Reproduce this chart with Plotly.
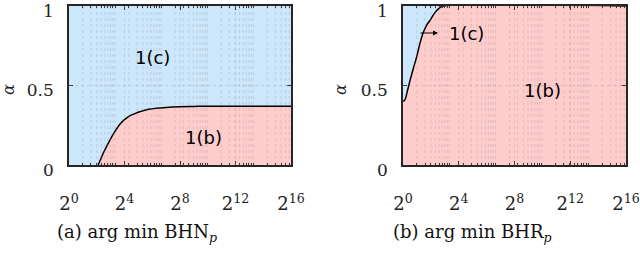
import numpy as np
import plotly.graph_objects as go

# ---- data (x given as log2(p)) ----
bhn_log2p = [2.1, 2.25, 2.5, 2.95, 3.3, 3.7, 4.0, 4.4, 4.8, 5.1, 5.6, 6.3, 7.0, 8.0, 9.0, 10.0, 12.0, 16.0]
bhn_alpha = [0.0, 0.03, 0.08, 0.157, 0.21, 0.26, 0.285, 0.31, 0.325, 0.335, 0.348, 0.357, 0.362, 0.366, 0.368, 0.37, 0.37, 0.37]

bhr_log2p = [0.0, 0.14, 0.3, 0.5, 0.75, 0.98, 1.2, 1.44, 1.7, 1.94, 2.3, 2.65, 2.9, 16.0]
bhr_alpha = [0.40, 0.41, 0.46, 0.53, 0.61, 0.68, 0.76, 0.83, 0.88, 0.91, 0.96, 0.99, 1.0, 1.0]

x_tickvals = [0, 4, 8, 12, 16]
x_ticktext = ["2<sup>0</sup>", "2<sup>4</sup>", "2<sup>8</sup>", "2<sup>12</sup>", "2<sup>16</sup>"]
y_tickvals = [0, 0.5, 1]
y_ticktext = ["0", "0.5", "1"]

BLUE = "#cce6fb"
PINK = "#ffcccc"
FRAME = "#262626"
SERIF = "DejaVu Serif, serif"
SANS = "DejaVu Sans, sans-serif"

# minor log positions (MATLAB style, base-10 minors shown on base-2 exponent axis)
minor = [float(np.log2(m * 10 ** k)) for k in range(0, 5) for m in range(1, 10)]
minor = [v for v in minor if 0 < v < 16]

fig = go.Figure()
fig.add_trace(go.Scatter(x=bhn_log2p, y=bhn_alpha, mode="lines", fill="tozeroy",
                         fillcolor=PINK, line=dict(color="black", width=1.5, shape="spline"),
                         xaxis="x", yaxis="y", showlegend=False, hoverinfo="skip"))
fig.add_trace(go.Scatter(x=bhr_log2p, y=bhr_alpha, mode="lines", fill="tozeroy",
                         fillcolor=PINK, line=dict(color="black", width=1.5, shape="spline"),
                         xaxis="x2", yaxis="y2", showlegend=False, hoverinfo="skip"))

def xax(domain, anchor):
    return dict(domain=domain, anchor=anchor, range=[0, 16], tickmode="array",
                tickvals=x_tickvals, ticktext=x_ticktext, ticks="inside", ticklen=4,
                tickcolor=FRAME, showline=True, linecolor=FRAME, linewidth=1.5, mirror="ticks",
                showgrid=False, zeroline=False, ticklabelstandoff=22, automargin=False,
                ticklabeloverflow="allow",
                tickfont=dict(family=SERIF, size=18, color="#222"),
                minor=dict(tickvals=minor, ticks="inside", ticklen=2, tickcolor=FRAME, showgrid=False),
                layer="above traces")

def yax(domain, anchor):
    return dict(domain=domain, anchor=anchor, range=[-0.0001, 1.0001], tickmode="array",
                tickvals=y_tickvals, ticktext=y_ticktext, ticks="inside", ticklen=4,
                tickcolor=FRAME, showline=True, linecolor=FRAME, linewidth=1.5, mirror="ticks",
                showgrid=False, zeroline=False, ticklabelstandoff=10, ticklabelshift=5,
                automargin=False, ticklabeloverflow="allow",
                tickfont=dict(family=SERIF, size=17, color="#222"), layer="above traces")

yd = [1 - 165 / 256, 1 - 6 / 256]
fig.update_layout(
    width=640, height=256, margin=dict(l=0, r=0, t=0, b=0, autoexpand=False),
    paper_bgcolor="white", plot_bgcolor=BLUE,
    xaxis=xax([69 / 640, 291 / 640], "y"),
    yaxis=yax(yd, "x"),
    xaxis2=xax([403 / 640, 626 / 640], "y2"),
    yaxis2=yax(yd, "x2"),
)

# dotted grid lines drawn above the fills
GRID = "rgba(150,150,150,0.3)"
shapes = []
for xr, yr in (("x", "y"), ("x2", "y2")):
    for v in minor + x_tickvals[1:-1]:
        shapes.append(dict(type="line", xref=xr, yref=yr + " domain", x0=v, x1=v, y0=0, y1=1,
                           line=dict(color=GRID, width=1, dash="dot"), layer="above"))
    shapes.append(dict(type="line", xref=xr + " domain", yref=yr, x0=0, x1=1, y0=0.5, y1=0.5,
                       line=dict(color=GRID, width=1, dash="dot"), layer="above"))
fig.update_layout(shapes=shapes)

ann = [
    dict(x=152 / 640, y=1 - 57 / 256, text="1(c)", font=dict(family=SANS, size=18, color="black")),
    dict(x=203 / 640, y=1 - 137 / 256, text="1(b)", font=dict(family=SANS, size=18, color="black")),
    dict(x=466 / 640, y=1 - 33 / 256, text="1(c)", font=dict(family=SANS, size=18, color="black")),
    dict(x=542 / 640, y=1 - 90 / 256, text="1(b)", font=dict(family=SANS, size=18, color="black")),
    dict(x=8 / 640, y=1 - 90 / 256, text="<i>α</i>", textangle=-90, font=dict(family=SERIF, size=16, color="#222")),
    dict(x=340 / 640, y=1 - 90 / 256, text="<i>α</i>", textangle=-90, font=dict(family=SERIF, size=16, color="#222")),
    dict(x=137 / 640, y=1 - 233 / 256, text="(a) arg min BHN<sub><i>p</i></sub>", font=dict(family=SERIF, size=18, color="#111")),
    dict(x=472 / 640, y=1 - 233 / 256, text="(b) arg min BHR<sub><i>p</i></sub>", font=dict(family=SERIF, size=18, color="#111")),
]
for a in ann:
    a.update(xref="paper", yref="paper", showarrow=False, xanchor="center", yanchor="middle")
# arrow pointing to 1(c)
ann.append(dict(xref="paper", yref="paper", axref="pixel", ayref="pixel",
                x=438 / 640, y=1 - 33 / 256, ax=-19, ay=0, text="", showarrow=True,
                arrowhead=2, arrowsize=1, arrowwidth=1, arrowcolor="black"))
fig.update_layout(annotations=ann)

fig.write_html("out.html", config={"displayModeBar": False},
               post_script="document.body.style.margin='0';document.body.style.overflow='hidden';")
